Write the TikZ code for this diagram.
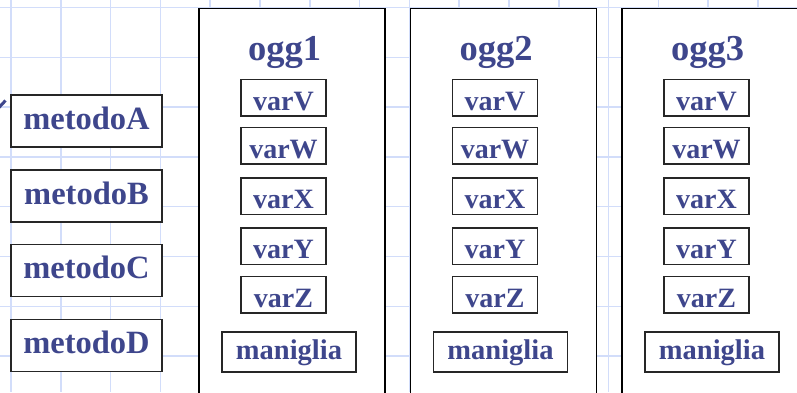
\documentclass[tikz,border=0pt]{standalone}
\usepackage{fontspec}
\setmainfont{Liberation Serif}
\definecolor{ink}{RGB}{62,70,140}
\definecolor{gridblue}{RGB}{210,221,250}
\tikzset{
  labeltext/.style={text=ink, font=\bfseries\fontsize{#1pt}{#1pt}\selectfont},
  gridline/.style={draw=gridblue, line width=1.5pt},
  objbox/.style={draw=black, line width=1.5pt, fill=white,
    minimum width=186pt, minimum height=440pt, inner sep=0pt},
  methodbox/.style={draw=black!85, line width=1.5pt, fill=white,
    minimum width=151pt, minimum height=52pt, inner sep=0pt,
    text height=16pt, text depth=0pt, labeltext=32.5},
  varbox/.style={draw=black!85, line width=1.5pt, fill=white,
    minimum width=85pt, minimum height=36.5pt, inner sep=0pt,
    text height=25pt, text depth=0pt, labeltext=28},
  handlebox/.style={draw=black!85, line width=1.5pt, fill=white,
    minimum width=134pt, minimum height=40pt, inner sep=0pt,
    text height=14pt, text depth=0pt, labeltext=28.5},
  titletext/.style={inner sep=0pt, labeltext=36.5},
}
\begin{document}
\begin{tikzpicture}[x=1pt, y=-1pt]
  \clip (0,0) rectangle (797,392);
  \fill[white] (0,0) rectangle (797,392);

  % squared paper
  \foreach \i in {0,...,15}
    \draw[gridline] (11+49.8*\i, 0) -- (11+49.8*\i, 392);
  \foreach \j in {0,...,8}
    \draw[gridline] (0, 7.5+49.8*\j) -- (797, 7.5+49.8*\j);

  % bullet tick at the left edge
  \draw[ink, line width=3pt] (-1,107.5) -- (5.5,100.5);

  % methods
  \foreach \m/\y in {A/121, B/196, C/270.5, D/345.5}
    \node[methodbox] (metodo\m) at (86.5, \y) {metodo\m};

  % objects with their fields and handle
  \foreach \k in {1,2,3} {
    \pgfmathsetmacro\dx{211.5*(\k-1)}
    \node[objbox, anchor=north west] (ogg\k) at (198+\dx, 7.5) {};
    \node[titletext, anchor=base] (ogg\k-title) at (284.5+\dx, 60) {ogg\k};
    \foreach \v/\y in {V/97.5, W/145.5, X/196, Y/246, Z/294.5}
      \node[varbox] (ogg\k-var\v) at (283.5+\dx, \y) {var\v};
    \node[handlebox] (ogg\k-maniglia) at (289+\dx, 352) {maniglia};
  }
\end{tikzpicture}
\end{document}
